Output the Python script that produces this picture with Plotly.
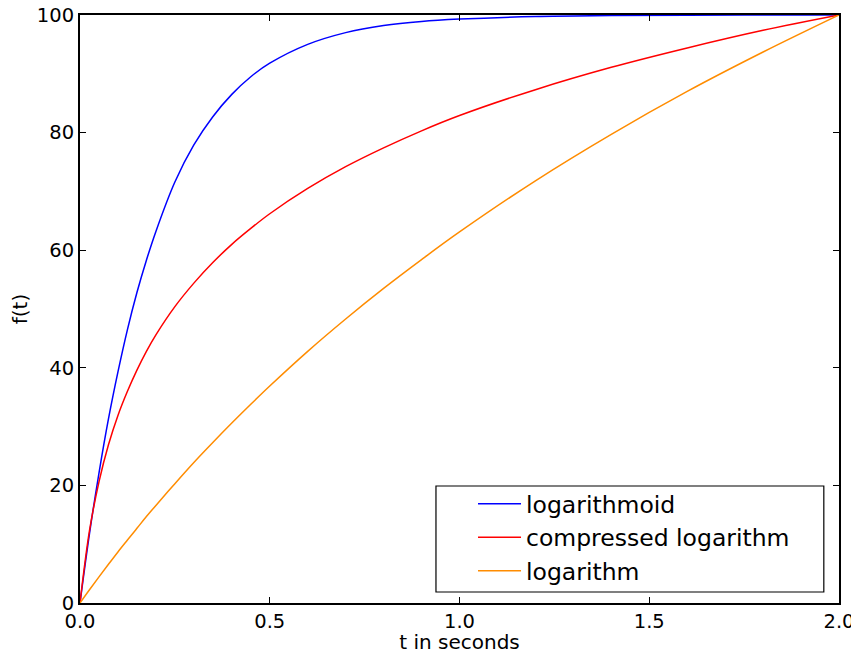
import plotly.graph_objects as go

t = [0.0, 0.025, 0.05, 0.075, 0.1, 0.125, 0.15, 0.175, 0.2, 0.25, 0.3, 0.35, 0.4,
     0.45, 0.5, 0.6, 0.7, 0.8, 0.9, 1.0, 1.2, 1.4, 1.6, 1.8, 2.0]
logarithmoid = [0.0, 11.8, 22.1, 31.3, 39.3, 46.5, 52.8, 58.3, 63.2, 71.6, 77.9, 82.7,
                86.5, 89.5, 91.8, 95.0, 97.0, 98.2, 98.9, 99.3, 99.75, 99.9, 99.97,
                99.99, 100.0]
compressed_log = [0.0, 12.3, 20.6, 26.9, 31.9, 36.0, 39.6, 42.8, 45.6, 50.4, 54.4, 57.9,
                  61.0, 63.7, 66.2, 70.5, 74.2, 77.4, 80.3, 82.9, 87.3, 91.1, 94.4,
                  97.4, 100.0]
logarithm = [0.0, 2.25, 4.44, 6.58, 8.68, 10.7, 12.7, 14.7, 16.6, 20.3, 23.9, 27.3,
             30.6, 33.8, 36.9, 42.8, 48.3, 53.5, 58.4, 63.1, 71.8, 79.7, 87.0, 93.7,
             100.0]

names = ["logarithmoid", "compressed logarithm", "logarithm"]
colors = ["#0000ff", "#ff0000", "#ff8c00"]
series = [logarithmoid, compressed_log, logarithm]

font = "DejaVu Sans"
fig = go.Figure()
for n, c, s in zip(names, colors, series):
    fig.add_trace(go.Scatter(x=t, y=s, mode="lines", name=n,
                             line=dict(color=c, width=1.5, shape="spline", smoothing=1.0)))

axis_common = dict(showgrid=False, zeroline=False, showline=True, linecolor="black",
                   linewidth=2, mirror="allticks", ticks="inside", ticklen=6,
                   tickwidth=1, tickcolor="black", automargin=False,
                   ticklabeloverflow="allow",
                   tickfont=dict(family=font, size=19.5, color="black"))

fig.update_xaxes(range=[0, 2], tickvals=[0, 0.5, 1.0, 1.5, 2.0],
                 ticktext=["0.0", "0.5", "1.0", "1.5", "2.0"],
                 title=dict(text="t in seconds", font=dict(family=font, size=20, color="black"),
                            standoff=9),
                 **axis_common)
fig.update_yaxes(range=[0, 100], tickvals=[0, 20, 40, 60, 80, 100],
                 title=dict(text="f(t)", font=dict(family=font, size=20, color="black"),
                            standoff=12),
                 **axis_common)

# legend frame (matplotlib-style box)
fig.add_shape(type="rect", xref="paper", yref="paper",
              x0=0.469, x1=0.980, y0=0.0187, y1=0.199,
              line=dict(color="black", width=1.2), fillcolor="white", layer="below")

# the page body adds an 8px margin, so the figure is drawn 8px smaller
fig.update_layout(
    width=851, height=646,
    margin=dict(l=72, r=20, t=7, b=51),
    paper_bgcolor="white", plot_bgcolor="white",
    font=dict(family=font, color="black"),
    legend=dict(x=0.5178, y=0.2058, xanchor="left", yanchor="top",
                bgcolor="rgba(0,0,0,0)", borderwidth=0, itemwidth=43,
                font=dict(family=font, size=23.5, color="black"),
                tracegroupgap=0),
    showlegend=True,
)

fig.write_html("out.html")
